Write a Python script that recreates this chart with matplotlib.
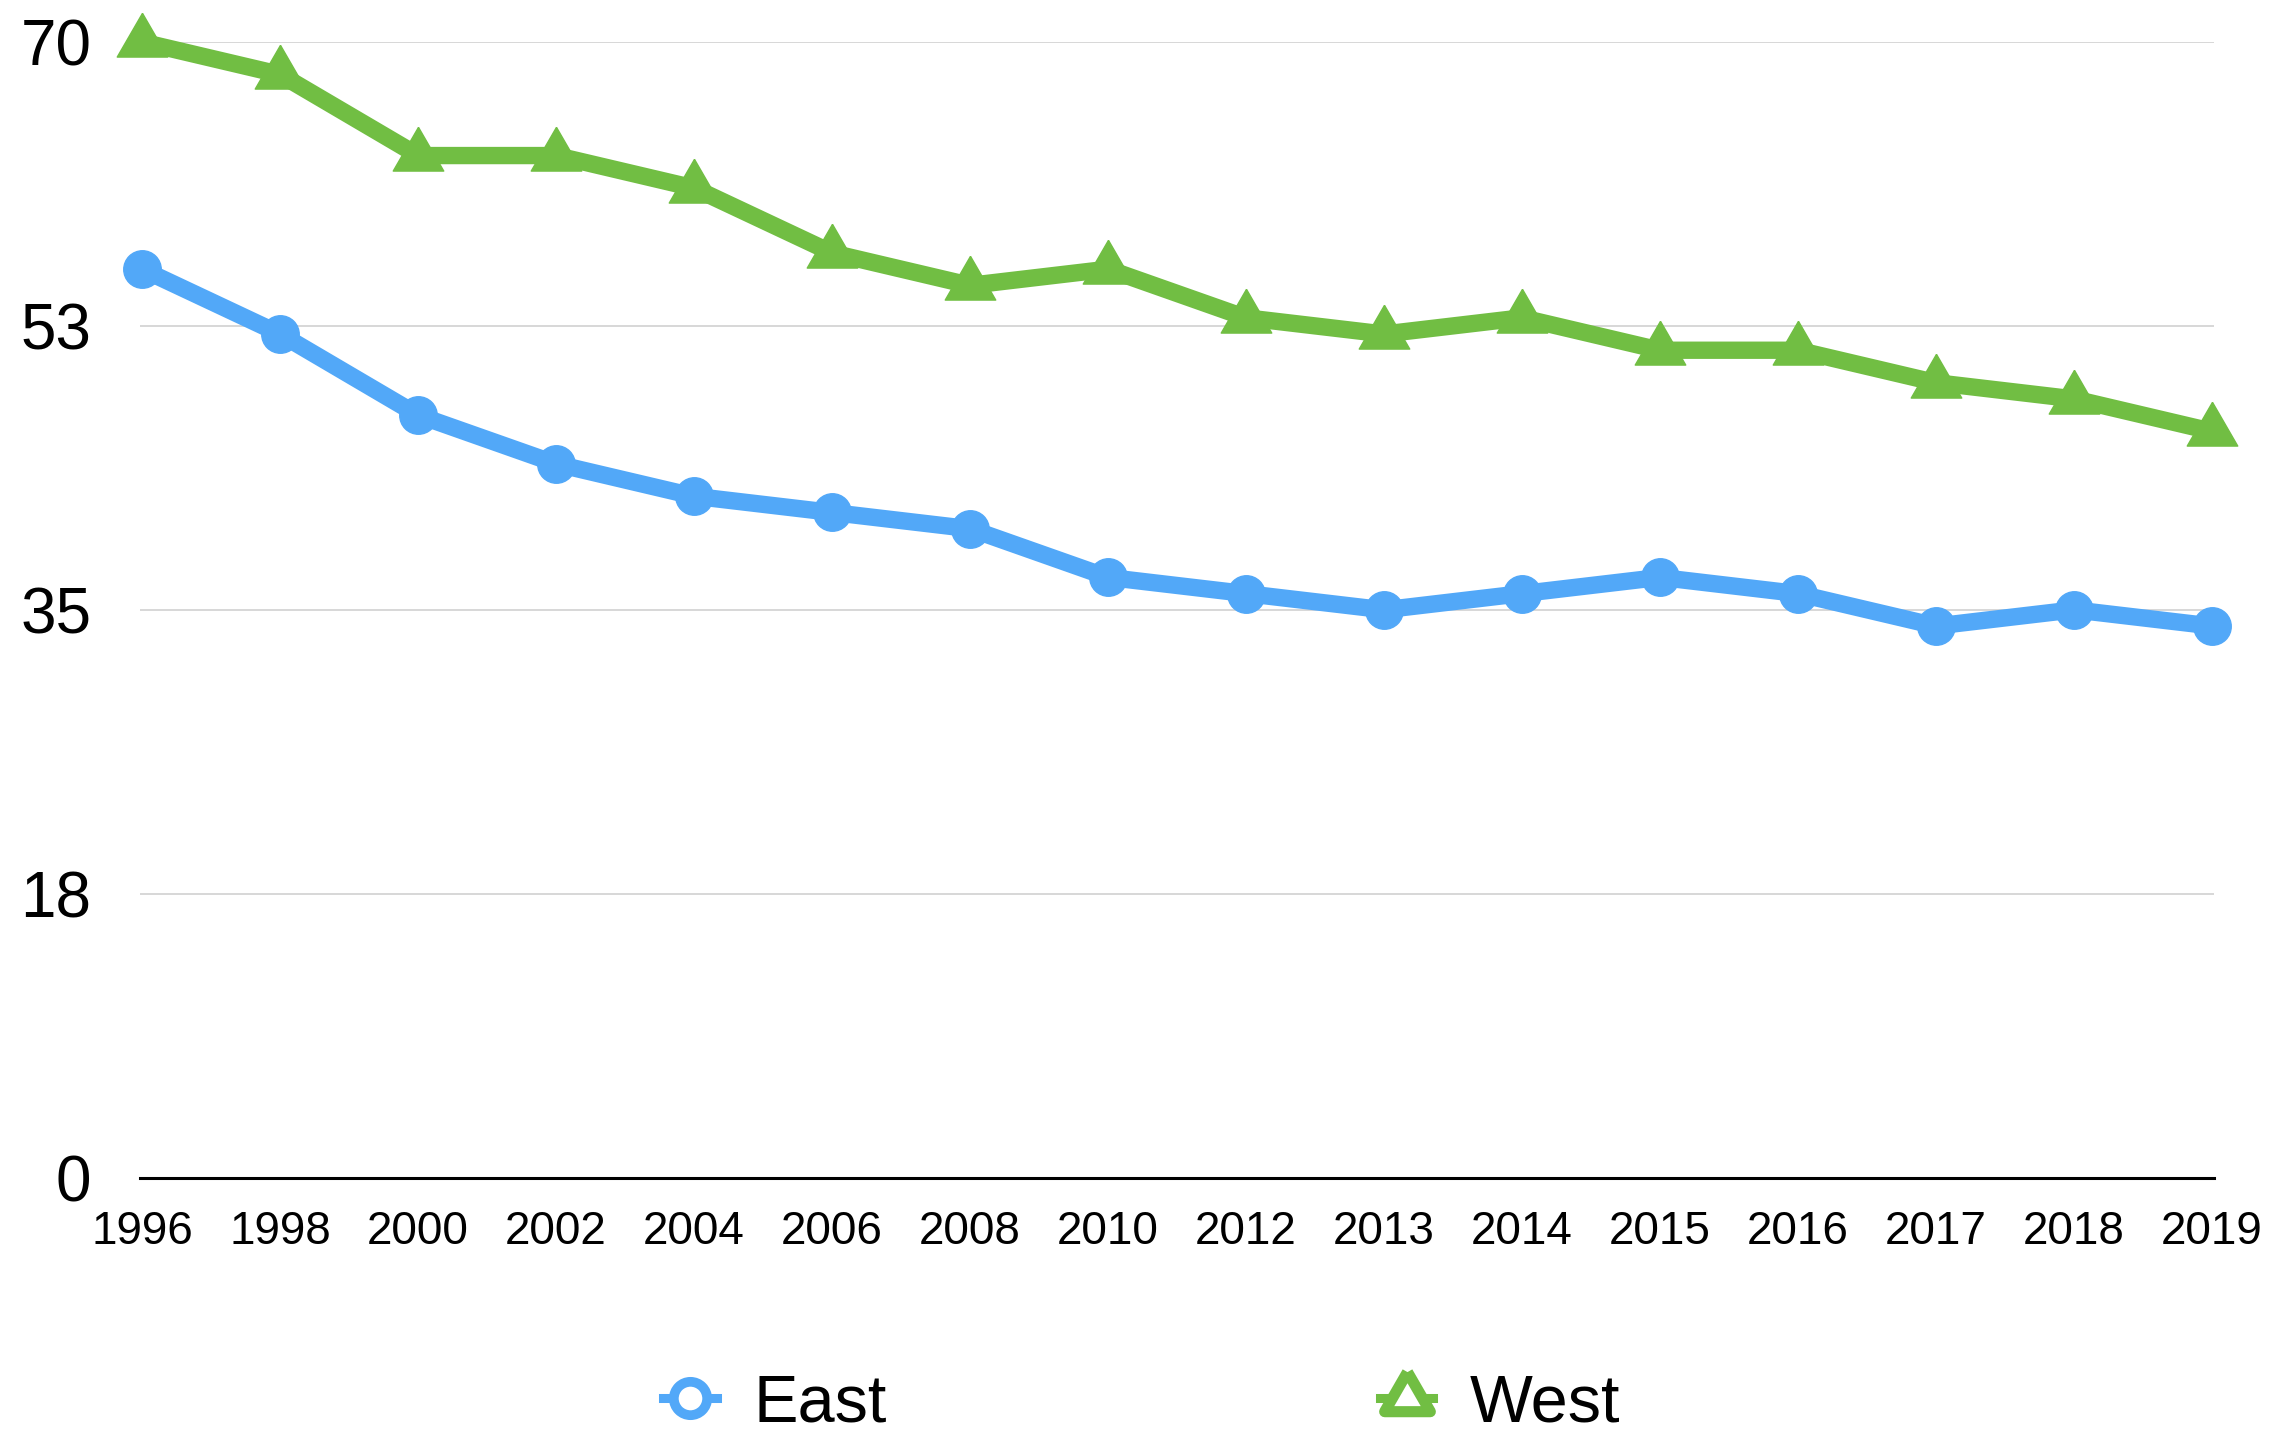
import matplotlib
matplotlib.use("Agg")
import matplotlib.pyplot as plt
from matplotlib.lines import Line2D
from matplotlib.ticker import FixedLocator, FixedFormatter

plt.rcParams['font.family'] = ['Liberation Sans', 'DejaVu Sans']

years = ["1996", "1998", "2000", "2002", "2004", "2006", "2008", "2010",
         "2012", "2013", "2014", "2015", "2016", "2017", "2018", "2019"]
east = [56, 52, 47, 44, 42, 41, 40, 37, 36, 35, 36, 37, 36, 34, 35, 34]
west = [70, 68, 63, 63, 61, 57, 55, 56, 53, 52, 53, 51, 51, 49, 48, 46]
ytick_vals = [0, 17.5, 35, 52.5, 70]
ytick_labels = ["0", "18", "35", "53", "70"]

blue = "#52a8f8"
green = "#71be43"

# equilateral triangle centred on its centroid
tri = [(0, 1.155), (-1, -0.577), (1, -0.577), (0, 1.155)]

fig = plt.figure(figsize=(22.84, 14.33), dpi=100)
ax = fig.add_axes([0.0613, 0.1782, 0.9081, 0.7925])

x = list(range(len(years)))
ax.plot(x, east, color=blue, lw=12.5, marker="o", ms=27, mec=blue, mfc=blue,
        clip_on=False, zorder=3, solid_joinstyle="miter")
ax.plot(x, west, color=green, lw=12.5, marker=tri, ms=42, mec=green, mfc=green,
        clip_on=False, zorder=3, solid_joinstyle="miter")

ax.set_xlim(-0.015, len(years) - 1 + 0.015)
ax.set_ylim(0, 70)
ax.xaxis.set_major_locator(FixedLocator(x))
ax.xaxis.set_major_formatter(FixedFormatter(years))
ax.yaxis.set_major_locator(FixedLocator(ytick_vals))
ax.yaxis.set_major_formatter(FixedFormatter(ytick_labels))
ax.tick_params(axis="x", length=0, pad=23, labelsize=33)
ax.tick_params(axis="y", length=0, pad=35, labelsize=46)

ax.grid(axis="y", color="#d4d4d4", lw=1.3)
ax.set_axisbelow(True)
for s in ["top", "right", "left"]:
    ax.spines[s].set_visible(False)
ax.spines["bottom"].set_linewidth(2.2)
ax.spines["bottom"].set_color("black")
ax.spines["bottom"].set_zorder(4)

handles = [
    Line2D([], [], color=blue, lw=6.5, marker="o", ms=24, mfc="white", mec=blue, mew=7),
    Line2D([], [], color=green, lw=6.5, marker=tri, ms=38, mfc="white", mec=green, mew=8),
]
fig.legend(handles, ["East", "West"], loc="center", bbox_to_anchor=(0.5, 0.02),
           ncol=2, frameon=False, fontsize=48, handlelength=0.8,
           handletextpad=0.55, columnspacing=7.4)

fig.savefig("out.png", dpi=100)
